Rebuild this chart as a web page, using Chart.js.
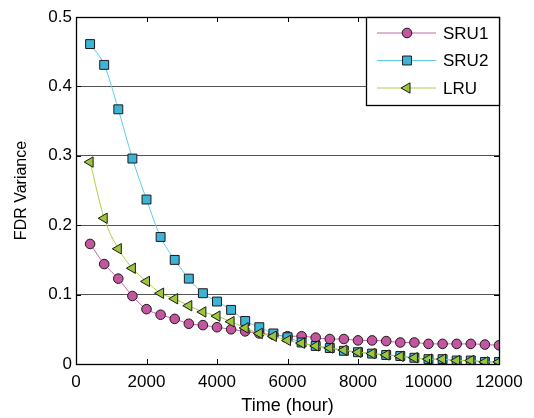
<!DOCTYPE html>
<html>
<head>
<meta charset="utf-8">
<script src="https://cdn.jsdelivr.net/npm/chart.js@4.4.0/dist/chart.umd.min.js"></script>
<style>
  html, body { margin: 0; padding: 0; background: #fff; }
  #wrap { width: 534px; height: 418px; }
</style>
</head>
<body>
<div id="wrap"><canvas id="chart__canvas"></canvas></div>
<script>
// hours at which each model was evaluated
const hours = [400, 800, 1200, 1600, 2000, 2400, 2800, 3200, 3600, 4000,
    4400, 4800, 5200, 5600, 6000, 6400, 6800, 7200, 7600, 8000,
    8400, 8800, 9200, 9600, 10000, 10400, 10800, 11200, 11600, 12000];

const sru1 = [0.173, 0.144, 0.123, 0.098, 0.079, 0.071, 0.065, 0.058, 0.056, 0.053,
    0.050, 0.047, 0.044, 0.042, 0.040, 0.040, 0.038, 0.036, 0.036, 0.034,
    0.034, 0.033, 0.031, 0.031, 0.029, 0.029, 0.029, 0.029, 0.028, 0.027];

const sru2 = [0.461, 0.431, 0.367, 0.296, 0.237, 0.183, 0.150, 0.123, 0.102, 0.090,
    0.078, 0.062, 0.053, 0.044, 0.0385, 0.031, 0.026, 0.023, 0.019, 0.017,
    0.015, 0.013, 0.0115, 0.009, 0.007, 0.007, 0.005, 0.005, 0.003, 0.003];

const lru = [0.291, 0.210, 0.166, 0.138, 0.119, 0.102, 0.094, 0.084, 0.075, 0.069,
    0.061, 0.052, 0.044, 0.040, 0.034, 0.030, 0.026, 0.023, 0.020, 0.017,
    0.015, 0.013, 0.011, 0.009, 0.007, 0.007, 0.005, 0.005, 0.003, 0.003];

const xTicks = [0, 2000, 4000, 6000, 8000, 10000, 12000];
const yTicks = [0, 0.1, 0.2, 0.3, 0.4, 0.5];

const FONT = "'Liberation Sans', Arial, Helvetica, sans-serif";

function points(ys) {
    return hours.map((h, i) => ({ x: h, y: ys[i] }));
}

function makeSeries(label, ys, line, fill, style, radius, rotation, order) {
    return {
        label,
        data: points(ys),
        borderColor: line,
        borderWidth: 1,
        backgroundColor: fill,
        pointBackgroundColor: fill,
        pointBorderColor: "#1a1a1a",
        pointBorderWidth: 1,
        pointStyle: style,
        pointRadius: radius,
        pointRotation: rotation,
        cubicInterpolationMode: "monotone",
        order,
    };
}

const datasets = [
    makeSeries("SRU1", sru1, "#c966a9", "#c4559f", "circle", 4.8, 0, 3),
    makeSeries("SRU2", sru2, "#5ecbea", "#3eb3d8", "rect", 6.3, 0, 2),
    makeSeries("LRU", lru, "#a8d048", "#9dc63b", "triangle", 6, 270, 1),
];

// box frame, inward tick marks and the boxed legend in the upper right
const frameAndLegend = {
    id: "frameAndLegend",
    afterDatasetsDraw(chart) {
        const { ctx, chartArea: a, scales } = chart;
        ctx.save();
        ctx.strokeStyle = "#000";
        ctx.lineWidth = 1;

        ctx.beginPath();
        xTicks.forEach((t) => {
            const px = Math.round(scales.x.getPixelForValue(t)) + 0.5;
            ctx.moveTo(px, a.bottom);
            ctx.lineTo(px, a.bottom - 5);
            ctx.moveTo(px, a.top);
            ctx.lineTo(px, a.top + 5);
        });
        yTicks.forEach((t) => {
            const py = Math.round(scales.y.getPixelForValue(t)) + 0.5;
            ctx.moveTo(a.left, py);
            ctx.lineTo(a.left + 5, py);
            ctx.moveTo(a.right, py);
            ctx.lineTo(a.right - 5, py);
        });
        ctx.stroke();

        ctx.lineWidth = 1.3;
        ctx.strokeRect(Math.round(a.left) + 0.5, Math.round(a.top) + 0.5,
            Math.round(a.right - a.left), Math.round(a.bottom - a.top));

        // legend
        const lx = a.right - 133, ly = a.top, lw = 133, lh = 88;
        ctx.fillStyle = "#fff";
        ctx.fillRect(lx, ly, lw, lh);
        ctx.lineWidth = 1.3;
        ctx.strokeRect(Math.round(lx) + 0.5, Math.round(ly) + 0.5, lw, lh);

        ctx.font = "17px " + FONT;
        ctx.textBaseline = "middle";
        ctx.textAlign = "left";
        datasets.forEach((ds, i) => {
            const y = ly + 16 + i * 27.5;
            ctx.strokeStyle = ds.borderColor;
            ctx.lineWidth = 1;
            ctx.beginPath();
            ctx.moveTo(lx + 11, y);
            ctx.lineTo(lx + 70, y);
            ctx.stroke();
            ctx.fillStyle = ds.pointBackgroundColor;
            ctx.strokeStyle = ds.pointBorderColor;
            Chart.helpers.drawPoint(ctx, {
                pointStyle: ds.pointStyle,
                rotation: ds.pointRotation,
                radius: ds.pointRadius,
                borderWidth: 1,
            }, lx + 41, y);
            ctx.fillStyle = "#000";
            ctx.fillText(ds.label, lx + 77, y + 1);
        });
        ctx.restore();
    },
};

const ctx = document.getElementById("chart__canvas").getContext("2d");
const myChart = new Chart(ctx, {
    type: "line",
    data: { datasets },
    plugins: [frameAndLegend],
    options: {
        responsive: true,
        maintainAspectRatio: false,
        animation: false,
        layout: { padding: { left: 0, top: 17, right: 35, bottom: 0 } },
        plugins: {
            legend: { display: false },
            tooltip: { enabled: false },
        },
        scales: {
            x: {
                type: "linear",
                min: 0,
                max: 12000,
                afterBuildTicks: (scale) => { scale.ticks = xTicks.map((v) => ({ value: v })); },
                afterFit: (scale) => { scale.height = 54; },
                grid: { display: false, drawTicks: false },
                border: { display: false },
                ticks: {
                    padding: 8,
                    color: "#000",
                    font: { family: FONT, size: 17 },
                    maxRotation: 0,
                    callback: (v) => String(v),
                },
                title: {
                    display: true,
                    text: "Time (hour)",
                    color: "#000",
                    font: { family: FONT, size: 18 },
                    padding: { top: 0, bottom: 1 },
                },
            },
            y: {
                min: 0,
                max: 0.5,
                afterBuildTicks: (scale) => { scale.ticks = yTicks.map((v) => ({ value: v })); },
                afterFit: (scale) => { scale.width = 76; },
                grid: {
                    color: (c) => (c.tick.value > 0 && c.tick.value < 0.5 ? "#555" : "rgba(0,0,0,0)"),
                    lineWidth: 1,
                    drawTicks: false,
                },
                border: { display: false },
                ticks: {
                    padding: 4,
                    color: "#000",
                    font: { family: FONT, size: 17 },
                    callback: (v) => String(Math.round(v * 10) / 10),
                },
                title: {
                    display: true,
                    text: "FDR Variance",
                    color: "#000",
                    font: { family: FONT, size: 16 },
                    padding: { top: 12, bottom: 0 },
                },
            },
        },
    },
});
</script>
</body>
</html>
